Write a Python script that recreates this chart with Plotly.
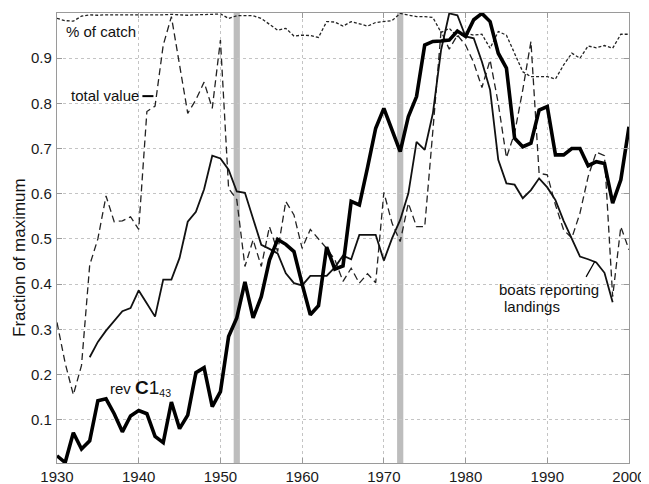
import plotly.graph_objects as go

years = list(range(1930, 2001))

rev_c1 = [0.020, 0.005, 0.071, 0.035, 0.053, 0.142, 0.146, 0.113, 0.073, 0.108,
          0.120, 0.113, 0.063, 0.049, 0.139, 0.080, 0.110, 0.204, 0.215, 0.129,
          0.162, 0.284, 0.325, 0.405, 0.325, 0.372, 0.453, 0.499, 0.488, 0.472,
          0.400, 0.332, 0.352, 0.482, 0.433, 0.440, 0.583, 0.575, 0.658, 0.745,
          0.789, 0.741, 0.693, 0.771, 0.815, 0.929, 0.937, 0.938, 0.940, 0.960,
          0.948, 0.985, 0.999, 0.981, 0.911, 0.878, 0.723, 0.704, 0.712, 0.785,
          0.793, 0.686, 0.686, 0.700, 0.700, 0.662, 0.671, 0.667, 0.579, 0.631,
          0.748]

boat_years = list(range(1934, 1999))
boats = [0.238, 0.272, 0.297, 0.318, 0.340, 0.347,
         0.386, 0.357, 0.328, 0.410, 0.410, 0.458, 0.538, 0.560, 0.610, 0.684,
         0.678, 0.653, 0.605, 0.602, 0.546, 0.487, 0.478, 0.468, 0.424, 0.402,
         0.397, 0.418, 0.418, 0.418, 0.437, 0.463, 0.455, 0.509, 0.509, 0.509,
         0.452, 0.501, 0.542, 0.601, 0.715, 0.697, 0.778, 0.918, 0.999, 0.995,
         0.948, 0.944, 0.892, 0.830, 0.675, 0.623, 0.620, 0.590, 0.608, 0.634,
         0.614, 0.586, 0.540, 0.500, 0.461, 0.455, 0.448, 0.425, 0.360]

total_value = [0.315, 0.225, 0.155, 0.220, 0.442, 0.500, 0.595, 0.538, 0.540, 0.549,
               0.521, 0.782, 0.794, 0.929, 0.992, 0.881, 0.778, 0.808, 0.847, 0.789,
               0.940, 0.612, 0.587, 0.439, 0.498, 0.439, 0.527, 0.472, 0.583, 0.553,
               0.479, 0.521, 0.501, 0.479, 0.454, 0.406, 0.435, 0.402, 0.423, 0.403,
               0.603, 0.535, 0.494, 0.579, 0.527, 0.527, 0.740, 0.960, 0.920, 0.951,
               0.929, 0.890, 0.835, 0.896, 0.800, 0.680, 0.734, 0.830, 0.937, 0.645,
               0.642, 0.575, 0.520, 0.502, 0.557, 0.638, 0.692, 0.684, 0.372, 0.527,
               0.476]

pct_catch = [0.988, 0.983, 0.982, 0.993, 0.996, 0.995, 0.996, 0.996, 0.995, 0.996,
             0.996, 0.995, 0.996, 0.996, 0.997, 0.996, 0.995, 0.996, 0.996, 0.997,
             0.998, 0.988, 0.994, 0.994, 0.994, 0.988, 0.975, 0.962, 0.966, 0.949,
             0.951, 0.950, 0.946, 0.981, 0.980, 0.971, 0.981, 0.976, 0.971, 0.979,
             0.981, 0.983, 0.999, 0.996, 0.992, 0.992, 0.990, 0.957, 0.966, 0.948,
             0.955, 0.951, 0.953, 0.922, 0.959, 0.951, 0.912, 0.870, 0.859, 0.859,
             0.859, 0.854, 0.885, 0.911, 0.900, 0.927, 0.923, 0.928, 0.922, 0.953,
             0.953]

band_years = [1952, 1972]
x_ticks = [1930, 1940, 1950, 1960, 1970, 1980, 1990, 2000]
y_ticks = [0.1, 0.2, 0.3, 0.4, 0.5, 0.6, 0.7, 0.8, 0.9, 1.0]
y_tick_text = ["0.1", "0.2", "0.3", "0.4", "0.5", "0.6", "0.7", "0.8", "0.9", "1"]

FONT = "Liberation Sans, Arial, sans-serif"

# the page body adds an 8px offset; size the figure so the plot lands where the reference has it
W, H = 641, 476
ml, mr, mt, mb = 49, 20, 5, 21
pw, ph = W - ml - mr, H - mt - mb

fig = go.Figure()
fig.add_trace(go.Scatter(x=years, y=pct_catch, mode="lines",
                         line=dict(color="#222222", width=1.3, dash="3px,2px"),
                         name="% of catch"))
fig.add_trace(go.Scatter(x=years, y=total_value, mode="lines",
                         line=dict(color="#222222", width=1.3, dash="7px,4px"),
                         name="total value"))
fig.add_trace(go.Scatter(x=boat_years, y=boats, mode="lines",
                         line=dict(color="#111111", width=1.8),
                         name="boats reporting landings"))
fig.add_trace(go.Scatter(x=years, y=rev_c1, mode="lines",
                         line=dict(color="#000000", width=3.6),
                         name="rev C1_43"))

for b in band_years:
    fig.add_shape(type="rect", xref="x", yref="paper", x0=b - 0.38, x1=b + 0.38,
                  y0=0, y1=1, fillcolor="#bdbdbd", line=dict(width=0), layer="below")

# pointer lines
fig.add_shape(type="line", xref="x", yref="y", x0=1940.45, x1=1941.8, y0=0.816, y1=0.816,
              line=dict(color="#000000", width=2))
fig.add_shape(type="line", xref="x", yref="y", x0=1994.75, x1=1995.85, y0=0.416, y1=0.451,
              line=dict(color="#000000", width=1.2))

ann_font = dict(family=FONT, size=15, color="#111111")
fig.add_annotation(x=1930.8, y=0.958, xref="x", yref="y", text="% of catch",
                   showarrow=False, xanchor="left", yanchor="middle", font=ann_font)
fig.add_annotation(x=1931.5, y=0.818, xref="x", yref="y", text="total value",
                   showarrow=False, xanchor="left", yanchor="middle", font=ann_font)
fig.add_annotation(x=1936.2, y=0.170, xref="x", yref="y",
                   text="rev <span style='font-size:19px'><b>C</b>1</span><sub>43</sub>",
                   showarrow=False, xanchor="left", yanchor="middle", font=ann_font)
fig.add_annotation(x=1983.9, y=0.389, xref="x", yref="y", text="boats reporting",
                   showarrow=False, xanchor="left", yanchor="middle", font=ann_font)
fig.add_annotation(x=1984.5, y=0.350, xref="x", yref="y", text="landings",
                   showarrow=False, xanchor="left", yanchor="middle", font=ann_font)
fig.add_annotation(x=(11 - ml) / pw, y=(H - mb - 250) / ph, xref="paper", yref="paper",
                   text="Fraction of maximum", showarrow=False, textangle=-90,
                   font=dict(family=FONT, size=17, color="#111111"),
                   xanchor="center", yanchor="middle")

axis_common = dict(showgrid=True, gridcolor="#c4c4c4", griddash="dot", gridwidth=1,
                   showline=True, linecolor="#9a9a9a", linewidth=1.2, mirror="ticks",
                   ticks="inside", ticklen=5, tickcolor="#9a9a9a", zeroline=False,
                   automargin=False,
                   tickfont=dict(family=FONT, size=15, color="#1a1a1a"))

fig.update_layout(
    width=W, height=H,
    margin=dict(l=ml, r=mr, t=mt, b=mb, pad=0, autoexpand=False),
    plot_bgcolor="white", paper_bgcolor="white",
    showlegend=False,
    xaxis=dict(range=[1930, 2000], tickvals=x_ticks, ticklabelstandoff=0, **axis_common),
    yaxis=dict(range=[0.004, 1.0], tickvals=y_ticks, ticktext=y_tick_text,
               ticklabelstandoff=1, **axis_common),
)

fig.write_html("out.html")
